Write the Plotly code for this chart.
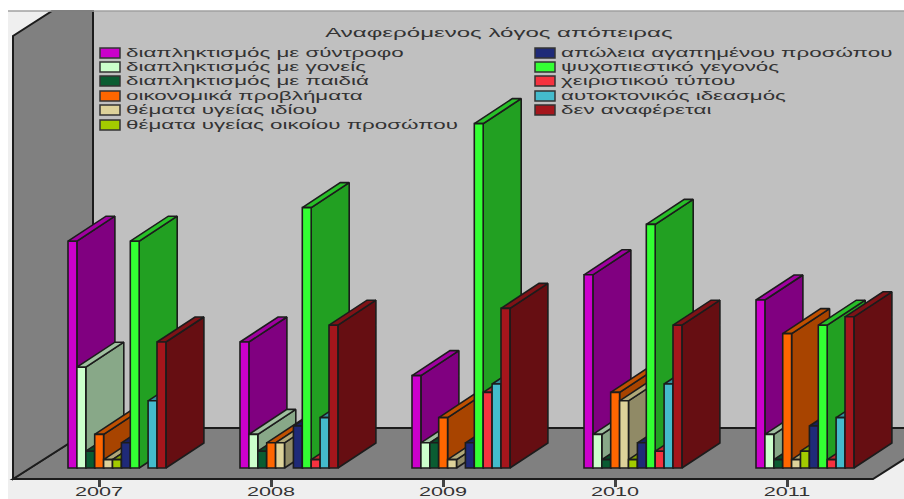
import plotly.graph_objects as go

years = ["2007", "2008", "2009", "2010", "2011"]

series_names = [
    "διαπληκτισμός με σύντροφο",
    "διαπληκτισμός με γονείς",
    "διαπληκτισμός με παιδιά",
    "οικονομικά προβλήματα",
    "θέματα υγείας ιδίου",
    "θέματα υγείας οικοίου προσώπου",
    "απώλεια αγαπημένου προσώπου",
    "ψυχοπιεστικό γεγονός",
    "χειριστικού τύπου",
    "αυτοκτονικός ιδεασμός",
    "δεν αναφέρεται",
]

syntrofo = [27, 15, 11, 23, 20]
goneis = [12, 4, 3, 4, 4]
paidia = [2, 2, 3, 1, 1]
oikonomika = [4, 3, 6, 9, 16]
ygeia_idiou = [1, 3, 1, 8, 1]
ygeia_oikeiou = [1, 0, 0, 1, 2]
apoleia = [3, 5, 3, 3, 5]
psychopiestiko = [27, 31, 41, 29, 17]
cheiristikou = [0, 1, 9, 2, 1]
ideasmos = [8, 6, 10, 10, 6]
den_anaferetai = [15, 17, 19, 17, 18]

series_values = [
    syntrofo, goneis, paidia, oikonomika, ygeia_idiou, ygeia_oikeiou,
    apoleia, psychopiestiko, cheiristikou, ideasmos, den_anaferetai,
]

front_colors = ["#cc00cc", "#ccffcc", "#0a5c32", "#ff6600", "#ddd29a", "#a3cc00",
                "#1f2a78", "#33ff33", "#f5323f", "#44bbcc", "#a5161c"]
side_colors = ["#800080", "#88a888", "#063d20", "#a84400", "#908a66", "#6c8800",
               "#141c50", "#22a022", "#a32029", "#2d7d88", "#660e12"]
top_colors = ["#a000a0", "#a0c0a0", "#084a28", "#c05000", "#b0a878", "#7f9f00",
              "#182060", "#28c028", "#c02830", "#358f9c", "#7f1216"]

# Page geometry, in pixels of the 904x499 canvas.
W, H = 904, 499
PLOT_BOTTOM = 479
BASE_Y = 468
PX_PER_UNIT = 8.4
GROUP_START = 68
GROUP_STEP = 172
SLOT = 8.9
TICK_START = 99
TICK_LEN = 7
DEPTH_X = 38
DEPTH_UNITS = 25 / PX_PER_UNIT
EDGE = "#1c1c1c"


def py(v):
    """Pixel row to value-axis coordinate."""
    return (BASE_Y - v) / PX_PER_UNIT


def paper_x(v):
    return v / W


def paper_y(v):
    return 1 - v / PLOT_BOTTOM


def poly(points, fill, line=EDGE, width=2):
    path = "M" + " L".join(f"{paper_x(x):.5f},{paper_y(y):.5f}" for x, y in points) + " Z"
    return dict(type="path", xref="paper", yref="paper", path=path, fillcolor=fill,
                line=dict(color=line, width=width), layer="below")


fig = go.Figure()

for s, (name, vals) in enumerate(zip(series_names, series_values)):
    xs, ys = [], []
    side_x, side_y, top_x, top_y = [], [], [], []
    for g, v in enumerate(vals):
        if v == 0:
            continue
        x0 = GROUP_START + g * GROUP_STEP + s * SLOT
        x1 = x0 + SLOT
        xs.append((x0 + x1) / 2)
        ys.append(v)
        side_x += [x1, x1 + DEPTH_X, x1 + DEPTH_X, x1, x1, None]
        side_y += [0, DEPTH_UNITS, v + DEPTH_UNITS, v, 0, None]
        top_x += [x0, x1, x1 + DEPTH_X, x0 + DEPTH_X, x0, None]
        top_y += [v, v, v + DEPTH_UNITS, v + DEPTH_UNITS, v, None]
    fig.add_trace(go.Scatter(x=side_x, y=side_y, mode="lines", fill="toself", fillcolor=side_colors[s],
                             line=dict(color=EDGE, width=1.6), zorder=2 * s, hoverinfo="skip"))
    fig.add_trace(go.Scatter(x=top_x, y=top_y, mode="lines", fill="toself", fillcolor=top_colors[s],
                             line=dict(color=EDGE, width=1.6), zorder=2 * s, hoverinfo="skip"))
    fig.add_trace(go.Bar(x=xs, y=ys, width=SLOT, name=name, marker=dict(color=front_colors[s],
                         line=dict(color=EDGE, width=1.6)), zorder=2 * s + 1))

# Two-column key: swatches are shapes, labels are a text trace.
LEFT_ROWS = [53, 67, 81, 96, 110, 125]
RIGHT_ROWS = [53, 67, 81, 96, 110]
LABEL_DROP = 1
shapes = [
    # white margin round the chart panel
    dict(type="rect", xref="paper", yref="paper", x0=0, x1=1, y0=paper_y(11), y1=paper_y(0),
         fillcolor="#ffffff", line=dict(width=0), layer="below"),
    dict(type="rect", xref="paper", yref="paper", x0=0, x1=paper_x(8), y0=paper_y(H), y1=paper_y(0),
         fillcolor="#ffffff", line=dict(width=0), layer="below"),
    # back wall, floor and left wall
    poly([(93, 11), (W + 2, 11), (W + 2, 428), (93, 428)], "#c0c0c0", line="#c0c0c0", width=0),
    poly([(13, 479), (873, 479), (953, 428), (93, 428)], "#808080"),
    poly([(13, 479), (93, 428), (93, 11), (52, 11), (13, 36)], "#808080"),
    dict(type="line", xref="paper", yref="paper", x0=paper_x(8), x1=1, y0=paper_y(11), y1=paper_y(11),
         line=dict(color="#a0a0a0", width=1.5), layer="below"),
]

label_x, label_y, label_text = [], [], []
rows = [(100, 126, y) for y in LEFT_ROWS] + [(535, 561, y) for y in RIGHT_ROWS]
for s, (sw_x, txt_x, row) in enumerate(rows):
    shapes.append(dict(type="rect", xref="paper", yref="paper",
                       x0=paper_x(sw_x), x1=paper_x(sw_x + 20),
                       y0=paper_y(row + 5), y1=paper_y(row - 5),
                       fillcolor=front_colors[s], line=dict(color="#333333", width=1.5), layer="below"))
    label_x.append(txt_x)
    label_y.append(py(row + LABEL_DROP))
    label_text.append(series_names[s])

fig.add_trace(go.Scatter(x=label_x, y=label_y, text=label_text, mode="text", textposition="middle right",
                         textfont=dict(family="Liberation Sans", size=13, color="#333333"),
                         cliponaxis=False, zorder=40, hoverinfo="skip"))

fig.add_annotation(xref="paper", yref="paper", x=paper_x(499), y=paper_y(32), showarrow=False,
                   xanchor="center", yanchor="middle",
                   text="Αναφερόμενος λόγος απόπειρας",
                   font=dict(family="Liberation Sans", size=13, color="#333333"))

fig.update_layout(
    width=W, height=H, margin=dict(l=0, r=0, t=0, b=H - PLOT_BOTTOM),
    paper_bgcolor="#efefef", plot_bgcolor="rgba(0,0,0,0)",
    showlegend=False, barmode="overlay", shapes=shapes,
    xaxis=dict(range=[0, W], tickmode="array", automargin=False,
               tickvals=[TICK_START + i * GROUP_STEP for i in range(len(years))],
               ticktext=years, ticks="outside", ticklen=TICK_LEN, tickwidth=2.5, tickcolor="#444444",
               ticklabelstandoff=-5,
               tickfont=dict(family="Liberation Sans", size=12, color="#333333"),
               showgrid=False, zeroline=False, showline=False),
    yaxis=dict(range=[py(PLOT_BOTTOM), py(0)], visible=False, automargin=False,
               showgrid=False, zeroline=False),
)

# Widen the lettering to the chart's broad proportions while keeping it as live text.
stretch = """
var gd = document.getElementById('{plot_id}');
var widen = function (selector, factor) {
  gd.querySelectorAll(selector).forEach(function (t) {
    t.setAttribute('textLength', (t.getComputedTextLength() * factor).toFixed(1));
    t.setAttribute('lengthAdjust', 'spacingAndGlyphs');
  });
};
widen('.textpoint text', 1.72);
widen('.annotation-text', 1.85);
widen('.xtick text', 1.8);
"""

fig.write_html("out.html", config={"displayModeBar": False}, post_script=stretch)
